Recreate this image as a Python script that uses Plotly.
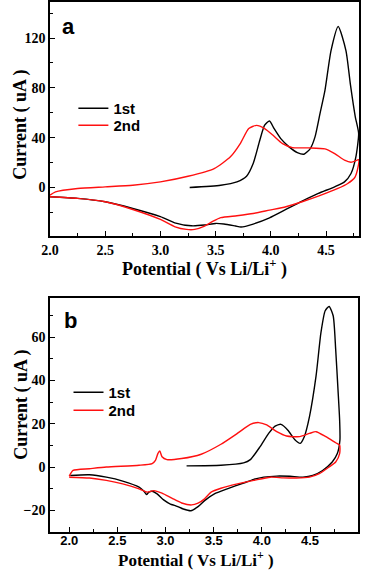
import plotly.graph_objects as go

# ---- panel a : CV curves (potential in V vs Li/Li+, current in uA) ----
a_1st_v = [3.265, 3.546, 3.693, 3.78, 3.84, 3.90, 3.944, 3.988, 4.03, 4.09, 4.165, 4.24, 4.30,
           4.357, 4.40, 4.445, 4.49, 4.545, 4.61, 4.68, 4.72, 4.765, 4.795,
           4.77, 4.726, 4.667, 4.578, 4.43, 4.283, 4.136, 3.988, 3.84, 3.73, 3.68, 3.575, 3.50,
           3.40, 3.28, 3.13, 3.0, 2.75, 2.5, 2.25, 2.0]
a_1st_i = [0, 1.8, 4.5, 9, 19.2, 37.9, 50, 53.4, 47.2, 39.2, 32.6, 28, 26.7,
           31.2, 40.6, 59.3, 78, 110, 129.3, 110, 83, 56.6, 43.4,
           24.5, 11.2, 4.5, 0.5, -4.8, -11, -17.7, -24.4, -29.4, -31.8, -31, -29.4, -28.9,
           -30.2, -30.8, -28.4, -23.5, -16.9, -11.5, -8.8, -7.5]

a_2nd_v = [2.0, 2.05, 2.25, 2.5, 2.75, 3.0, 3.25, 3.487, 3.634, 3.723, 3.80, 3.87, 3.944,
           4.02, 4.106, 4.195, 4.34, 4.49, 4.578, 4.667, 4.726, 4.78, 4.796,
           4.79, 4.76, 4.696, 4.607, 4.43, 4.283, 4.136, 3.988, 3.84, 3.693, 3.546, 3.47,
           3.40, 3.31, 3.236, 3.133, 3.0, 2.75, 2.5, 2.25, 2.0]
a_2nd_i = [-6.2, -3.5, -0.8, 0.5, 1.8, 4.5, 9, 15.2, 24.6, 35.2, 47.3, 49.9, 47.3,
           41.9, 35.2, 32, 31.8, 31, 27.2, 21.9, 20.3, 21.9, 22.4,
           16.5, 8, 3.2, -0.8, -7, -11.5, -15.5, -18.2, -20.9, -22.7, -24.3, -27.5,
           -31, -33.7, -33.7, -31.6, -25.7, -17.7, -11.5, -8.8, -7.5]

# ---- panel b ----
b_1st_v = [3.218, 3.575, 3.81, 3.88, 3.98, 4.07, 4.137, 4.198, 4.27, 4.34, 4.398, 4.44,
           4.494, 4.562, 4.613, 4.657, 4.698, 4.74, 4.766, 4.79, 4.807, 4.81,
           4.783, 4.73, 4.63, 4.528, 4.426, 4.29, 4.154, 4.02, 3.916, 3.81, 3.64, 3.507,
           3.405, 3.337, 3.262, 3.184, 3.1, 3.05, 2.98, 2.912, 2.861, 2.827, 2.803, 2.776,
           2.725, 2.555, 2.385, 2.21, 2.01]
b_1st_i = [0.5, 0.8, 1.9, 3.4, 9.3, 15.5, 18.9, 19.7, 17, 12.7, 10.9, 14,
           23.3, 41.9, 62, 72.1, 74.1, 69.8, 54.3, 35.7, 21.7, 12.4,
           6.2, 2.3, -1.6, -3.9, -4.7, -4.3, -4.2, -4.7, -5.7, -7.4, -10.1, -12.4,
           -15.5, -18.3, -20.2, -19.4, -17.8, -17.1, -15.2, -12.4, -11.2, -11.6, -12.7, -11.2,
           -9.3, -6.5, -4.7, -3.6, -3.9]

b_2nd_v = [2.0, 2.04, 2.21, 2.385, 2.725, 2.861, 2.895, 2.92, 2.94, 2.963, 3.014, 3.167,
           3.37, 3.575, 3.745, 3.88, 3.967, 4.05, 4.154, 4.256, 4.392, 4.494, 4.562, 4.664,
           4.766, 4.807,
           4.807, 4.766, 4.698, 4.596, 4.494, 4.357, 4.222, 4.086, 3.916, 3.745, 3.575,
           3.473, 3.405, 3.337, 3.27, 3.167, 3.065, 2.963, 2.878, 2.81, 2.725, 2.555,
           2.385, 2.21, 2.0]
b_2nd_i = [-4.2, -1.6, -0.8, 0, 0.8, 1.6, 3.1, 6.2, 7.4, 4.7, 3.4, 3.9,
           5.9, 10.5, 15.5, 19.7, 20.5, 19.4, 16.3, 14.3, 14, 15.5, 16.3, 14,
           11.2, 10.1,
           6.2, 2.3, 0, -3.1, -4.7, -5.1, -5, -4.7, -6.2, -7.8, -9.8,
           -11.6, -14.7, -16.7, -17.5, -16.6, -14.4, -12.1, -10.9, -11.6, -10.1, -7.8,
           -6.2, -5.1, -4.7]

W, H = 367, 571
serif = "Liberation Serif"
sans = "Liberation Sans"

fig = go.Figure()

def add(v, i, name, color, xa, ya, leg):
    fig.add_trace(go.Scatter(x=v, y=i, name=name, mode="lines",
                             line=dict(color=color, width=1.4, shape="spline", smoothing=0.6),
                             xaxis=xa, yaxis=ya, legend=leg))

add(a_1st_v, a_1st_i, "1st", "black", "x", "y", "legend")
add(a_2nd_v, a_2nd_i, "2nd", "#ff1010", "x", "y", "legend2")
add(b_1st_v, b_1st_i, "1st", "black", "x2", "y2", "legend3")
add(b_2nd_v, b_2nd_i, "2nd", "#ff1010", "x2", "y2", "legend4")

common = dict(showline=True, linecolor="black", linewidth=1.5, mirror=True,
              ticks="inside", ticklen=5, tickwidth=1.3, tickcolor="black",
              showgrid=False, zeroline=False)
serif_tick = dict(family=serif, size=14, color="black", weight="bold")
sans_tick = dict(family=sans, size=13, color="black", weight="bold")
leg_font = dict(family=sans, size=15, color="black", weight="bold")

def leg(px, py):
    # one legend per entry so the rows sit where the reference has them
    return dict(x=px / W, y=1 - py / H, xanchor="left", yanchor="top",
                bgcolor="rgba(0,0,0,0)", font=leg_font)

fig.update_layout(
    width=W, height=H, margin=dict(l=0, r=0, t=0, b=0),
    paper_bgcolor="white", plot_bgcolor="white",
    xaxis=dict(domain=[42 / W, 359 / W], range=[2.0, 4.8], tick0=2.0, dtick=0.5,
               tickformat=".1f", tickfont=serif_tick,
               minor=dict(dtick=0.25, ticks="inside", ticklen=3, tickcolor="black"), **common),
    yaxis=dict(domain=[1 - 236 / H, 1 - 2 / H], range=[-39, 149], tick0=0, dtick=40,
               tickfont=serif_tick,
               minor=dict(dtick=20, ticks="inside", ticklen=3, tickcolor="black"), **common),
    xaxis2=dict(domain=[42 / W, 358 / W], range=[1.8, 5.0], tick0=2.0, dtick=0.5,
                tickformat=".1f", tickfont=sans_tick, anchor="y2", ticklabelstandoff=-4,
                minor=dict(dtick=0.25, ticks="inside", ticklen=3, tickcolor="black"), **common),
    yaxis2=dict(domain=[1 - 532 / H, 1 - 298 / H], range=[-30, 78], tick0=0, dtick=20,
                tickfont=serif_tick, anchor="x2",
                minor=dict(dtick=10, ticks="inside", ticklen=3, tickcolor="black"), **common),
    legend=leg(66, 92),
    legend2=leg(66, 109),
    legend3=leg(61, 376),
    legend4=leg(61, 394),
    showlegend=True,
)

def note(text, px, py, font, angle=0):
    fig.add_annotation(text=text, x=px / W, y=1 - py / H, xref="paper", yref="paper",
                       xanchor="center", yanchor="middle", textangle=angle,
                       showarrow=False, font=font)

title_font = dict(family=serif, size=18, color="black", weight="bold")
note("Potential ( Vs Li/Li<sup>+</sup> )", 200, 268, title_font)
note("Potential ( Vs Li/Li<sup>+</sup> )", 192, 559, dict(title_font, size=17))
note("Current ( uA )", 12, 125, title_font, -90)
note("Current ( uA )", 12, 405, title_font, -90)

letter_font = dict(family=sans, size=22, color="black", weight="bold")
note("a", 61, 26, letter_font)
note("b", 63, 320, letter_font)

# the page's default 8px body margin would shift the whole chart
fig.write_html("out.html", config={"displayModeBar": False},
               post_script="document.body.style.margin='0';")
